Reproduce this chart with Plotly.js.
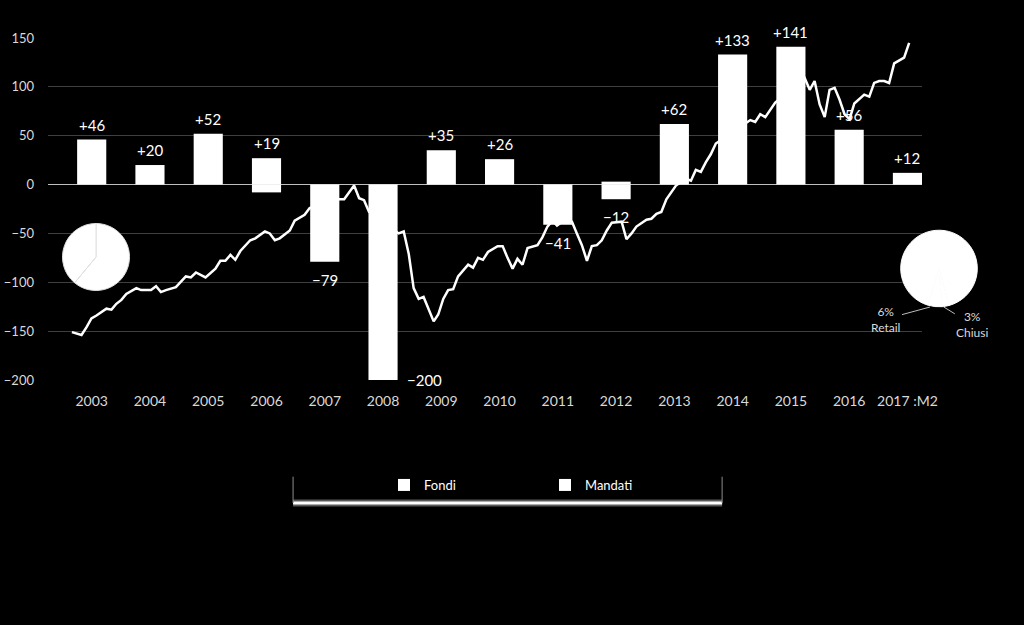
<!DOCTYPE html>
<html>
<head>
<meta charset="utf-8">
<script src="https://cdn.plot.ly/plotly-3.0.1.min.js"></script>
<style>
  html, body { margin: 0; padding: 0; background: #000; }
  #chart { width: 1024px; height: 625px; }
</style>
</head>
<body>
<div id="chart"></div>
<script>
// yearly net flows, stacked: Fondi + Mandati
var years = ['2003', '2004', '2005', '2006', '2007', '2008', '2009', '2010', '2011', '2012', '2013', '2014', '2015', '2016', '2017 :M2'];
var fondi = [46, 20, 52, 27, -79, -200, 35, 26, -41, 3, 62, 133, 141, 56, 12];
var mandati = [0, 0, 0, -8, 0, 0, 0, 0, 0, -15, 0, 0, 0, 0, 0];

// monthly line (gaps are hidden behind the bars)
var lineMonths = [
  '2003-01','2003-03','2003-04','2003-05','2003-06','2003-08','2003-09','2003-10','2003-11','2003-12',
  '2004-02','2004-03','2004-05','2004-06','2004-07','2004-08','2004-10','2004-12',
  '2005-01','2005-02','2005-04','2005-06','2005-07','2005-08','2005-09','2005-10','2005-11',
  '2006-01','2006-02','2006-04','2006-05','2006-06','2006-07','2006-09','2006-10','2006-12',
  '2007-01','2007-07','2007-08','2007-10','2007-11','2007-12',
  '2008-01','2008-07','2008-08','2008-09','2008-10','2008-11','2008-12',
  '2009-02','2009-03','2009-04','2009-05','2009-06','2009-07','2009-09','2009-10','2009-11','2009-12',
  '2010-01','2010-03','2010-04','2010-05','2010-06','2010-07','2010-08','2010-09','2010-11','2010-12',
  '2011-01','2011-02','2011-03','2011-04','2011-06','2011-07','2011-08','2011-09','2011-10','2011-11','2011-12',
  '2012-01','2012-02','2012-04','2012-05','2012-06','2012-07','2012-09','2012-10','2012-11','2012-12',
  '2013-01','2013-02','2013-03','2013-05','2013-06','2013-07','2013-08','2013-09','2013-10','2013-11',
  '2014-05','2014-06','2014-07','2014-08','2014-09','2014-10','2014-11',
  '2015-05','2015-06','2015-07','2015-08','2015-09','2015-10','2015-11','2015-12',
  '2016-01','2016-02','2016-03','2016-04','2016-05','2016-06','2016-07','2016-08','2016-09','2016-10','2016-11',
  '2017-01','2017-02'
];
var lineValues = [
  -151, -154, -146, -137, -134, -127, -128, -122, -118, -112,
  -106, -108, -108, -104, -110, -108, -105, -94,
  -95, -90, -95, -86, -78, -78, -72, -77, -68,
  -57, -55, -48, -50, -57, -55, -47, -37, -31,
  -24, -15, -15, -1, -14, -16,
  -28, -50, -48, -71, -106, -117, -115,
  -140, -133, -117, -108, -107, -94, -82, -85, -75, -77,
  -69, -63, -63, -75, -86, -76, -82, -65, -62, -54,
  -43, -37, -42, -38, -38, -50, -62, -78, -63, -62, -57,
  -47, -39, -38, -56, -50, -43, -36, -35, -30, -28,
  -15, -7, -1, 6, 4, 15, 13, 23, 31, 42,
  63, 66, 64, 72, 69, 76, 84,
  109, 97, 106, 82, 69, 97, 99, 87,
  72, 67, 83, 88, 92, 90, 104, 106, 106, 104, 124,
  130, 145
];

// pies
var pieLeftLabels = ['Fondi', 'Mandati'];
var pieLeftValues = [61, 39];
var pieRightLabels = ['Altri', 'Chiusi', 'Retail'];
var pieRightValues = [91, 3, 6];

var white = '#ffffff';

var lineTrace = {
  x: lineMonths,
  y: lineValues,
  xaxis: 'x',
  yaxis: 'y',
  mode: 'lines',
  line: {color: white, width: 2.5},
  showlegend: false,
  type: 'scatter'
};

var fondiTrace = {
  x: years,
  y: fondi,
  name: 'Fondi',
  xaxis: 'x2',
  yaxis: 'y2',
  width: 0.5,
  marker: {color: white, line: {width: 0}},
  type: 'bar'
};

var mandatiTrace = {
  x: years,
  y: mandati,
  name: 'Mandati',
  xaxis: 'x2',
  yaxis: 'y2',
  width: 0.5,
  marker: {color: white, line: {width: 0}},
  type: 'bar'
};

var pieLeft = {
  type: 'pie',
  labels: pieLeftLabels,
  values: pieLeftValues,
  sort: false,
  direction: 'clockwise',
  rotation: 0,
  textinfo: 'none',
  showlegend: false,
  marker: {colors: [white, white], line: {color: '#e0e0e0', width: 1}},
  domain: {x: [0.0610, 0.1265], y: [0.5352, 0.6424]}
};

var pieRight = {
  type: 'pie',
  labels: pieRightLabels,
  values: pieRightValues,
  sort: false,
  direction: 'clockwise',
  rotation: 197,
  textinfo: 'none',
  showlegend: false,
  marker: {colors: [white, white, white], line: {color: white, width: 1}},
  domain: {x: [0.8796, 0.9544], y: [0.5091, 0.6317]}
};

// net labels above / below each stacked bar (x as category index:
// numeric-looking strings like '2003' would be read as positions)
function barLabels() {
  var out = [];
  for (var i = 0; i < years.length; i++) {
    var net = fondi[i] + mandati[i];
    var barTop = Math.max(fondi[i], 0) + Math.max(mandati[i], 0);
    var barBottom = Math.min(fondi[i], 0) + Math.min(mandati[i], 0);
    var txt = net > 0 ? '+' + net : '\u2212' + Math.abs(net);
    var a = {
      x: i, xref: 'x2', yref: 'y2',
      text: txt, showarrow: false,
      font: {size: 15, color: white}
    };
    if (net > 0) {
      a.y = barTop; a.yanchor = 'bottom'; a.yshift = 4;
    } else if (barBottom <= -200) {
      a.y = barBottom; a.yanchor = 'middle'; a.xanchor = 'left'; a.xshift = 22;
    } else {
      a.y = barBottom; a.yanchor = 'top'; a.yshift = -7;
    }
    out.push(a);
  }
  return out;
}

var annotations = barLabels();

annotations.push({
  xref: 'paper', yref: 'paper', x: 0.9082, y: 0.5088,
  text: '6%<br>Retail', showarrow: true, arrowhead: 0, arrowwidth: 1, arrowcolor: '#bdbdbd',
  ax: -44, ay: 12, font: {size: 12, color: '#d9d9d9'}
});
annotations.push({
  xref: 'paper', yref: 'paper', x: 0.9212, y: 0.5093,
  text: '3%<br>Chiusi', showarrow: true, arrowhead: 0, arrowwidth: 1, arrowcolor: '#bdbdbd',
  ax: 29, ay: 18, font: {size: 12, color: '#d9d9d9'}
});

var layout = {
  width: 1024,
  height: 625,
  margin: {l: 0, r: 0, t: 0, b: 0},
  paper_bgcolor: '#000000',
  plot_bgcolor: '#000000',
  font: {family: 'Lato, sans-serif', color: '#d9d9d9'},
  barmode: 'relative',
  xaxis: {
    type: 'date',
    domain: [0.046875, 0.900391],
    range: ['2002-08-07', '2017-04-21'],
    anchor: 'y',
    showgrid: false,
    zeroline: false,
    showticklabels: false,
    ticks: ''
  },
  yaxis: {
    domain: [0.392, 0.9392],
    range: [-200, 150],
    anchor: 'x',
    dtick: 50,
    showgrid: true,
    gridcolor: '#3f3f3f',
    gridwidth: 1,
    zeroline: true,
    zerolinecolor: '#bfbfbf',
    zerolinewidth: 1,
    ticks: '',
    ticklabelstandoff: 13,
    tickfont: {size: 13, color: '#d9d9d9'}
  },
  xaxis2: {
    type: 'category',
    overlaying: 'x',
    anchor: 'y',
    side: 'bottom',
    range: [-0.75, 14.25],
    showgrid: false,
    zeroline: false,
    ticks: '',
    ticklabelstandoff: 11,
    tickfont: {size: 14, color: '#d9d9d9'}
  },
  yaxis2: {
    overlaying: 'y',
    anchor: 'x',
    range: [-200, 150],
    showgrid: false,
    zeroline: false,
    showticklabels: false,
    ticks: ''
  },
  legend: {
    orientation: 'h',
    x: 0.375,
    xanchor: 'left',
    y: 0.248,
    yanchor: 'top',
    entrywidth: 116,
    bgcolor: 'rgba(0,0,0,0)',
    font: {size: 13, color: '#ffffff'}
  },
  shapes: [
    {type: 'line', xref: 'paper', yref: 'paper', x0: 0.2862, x1: 0.7052, y0: 0.1952, y1: 0.1952,
      line: {color: 'rgba(255,255,255,0.35)', width: 7}},
    {type: 'line', xref: 'paper', yref: 'paper', x0: 0.2862, x1: 0.7052, y0: 0.1952, y1: 0.1952,
      line: {color: '#ffffff', width: 3}},
    {type: 'line', xref: 'paper', yref: 'paper', x0: 0.2862, x1: 0.2862, y0: 0.1952, y1: 0.2373,
      line: {color: '#8c8c8c', width: 1}},
    {type: 'line', xref: 'paper', yref: 'paper', x0: 0.7052, x1: 0.7052, y0: 0.1952, y1: 0.2373,
      line: {color: '#8c8c8c', width: 1}}
  ],
  annotations: annotations
};

Plotly.newPlot('chart', [lineTrace, fondiTrace, mandatiTrace, pieLeft, pieRight], layout, {displayModeBar: false, staticPlot: true});
</script>
</body>
</html>
